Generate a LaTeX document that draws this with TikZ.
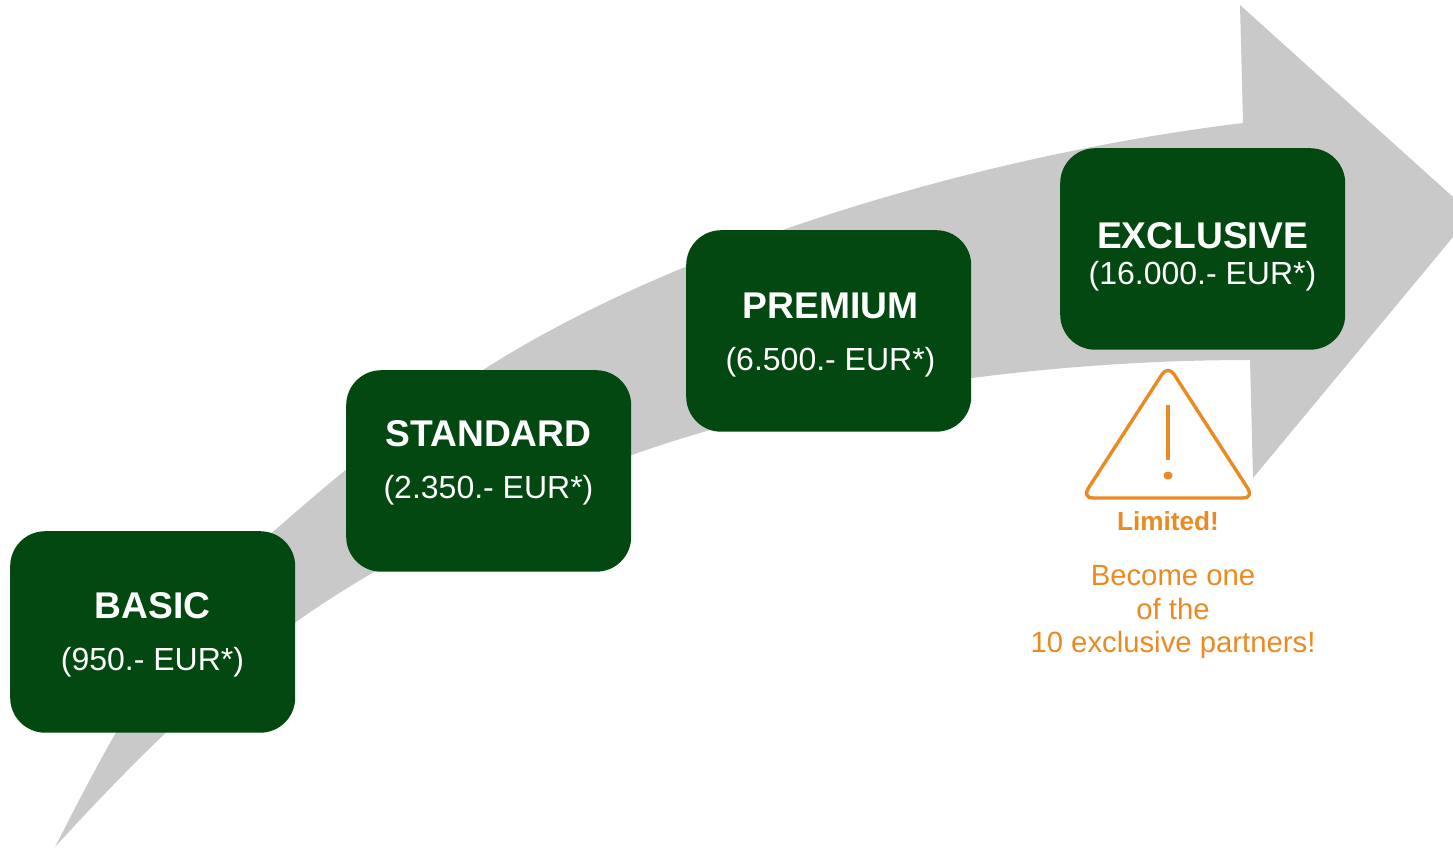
\documentclass[tikz,border=0pt]{standalone}
\usepackage{fontspec}
\setmainfont{Liberation Sans}
\definecolor{boxgreen}{HTML}{034711}
\definecolor{arrowgrey}{HTML}{C9C9C9}
\definecolor{warnorange}{HTML}{EA8A22}
\tikzset{
  tierbox/.style={fill=boxgreen,rounded corners=35pt,minimum width=285pt,minimum height=201.5pt,inner sep=0pt,anchor=north west},
  tiertitle/.style={text=white,font=\fontsize{37.2}{37}\selectfont\bfseries,anchor=base,inner sep=0pt},
  tierprice/.style={text=white,font=\fontsize{32}{32}\selectfont,anchor=base,inner sep=0pt},
  warnbold/.style={text=warnorange,font=\fontsize{26.2}{26}\selectfont\bfseries,anchor=base,inner sep=0pt},
  warntext/.style={text=warnorange,font=\fontsize{29.3}{29.3}\selectfont,anchor=base,inner sep=0pt}
}
\begin{document}
\begin{tikzpicture}[x=1pt,y=-1pt]
\useasboundingbox (0,0) rectangle (1453,847);
\fill[arrowgrey] (55,847) .. controls (100,760) and (165,625) .. (275,530)
  .. controls (335,478) and (396,425) .. (486,368)
  .. controls (680,245) and (980,155) .. (1243,123)
  -- (1240,5) -- (1453,197) -- (1453,237) -- (1253,478) -- (1250,360)
  .. controls (1000,360) and (770,405) .. (632,455)
  .. controls (510,495) and (380,562) .. (296,622)
  .. controls (215,680) and (125,770) .. (55,847) -- cycle;
\node[tierbox] (basic) at (10,531) {};
\node[tierbox] (standard) at (346,370) {};
\node[tierbox] (premium) at (686,230) {};
\node[tierbox] (exclusive) at (1060,148) {};
\node[tiertitle] (t1) at (152.5,618) {BASIC};
\node[tierprice] (p1) at (152.5,670) {(950.- EUR*)};
\node[tiertitle] (t2) at (488.5,446) {STANDARD};
\node[tierprice] (p2) at (488.5,498) {(2.350.- EUR*)};
\node[tiertitle] (t3) at (830.5,318) {PREMIUM};
\node[tierprice] (p3) at (830.5,370) {(6.500.- EUR*)};
\node[tiertitle] (t4) at (1202.5,248) {EXCLUSIVE};
\node[tierprice] (p4) at (1202.5,284) {(16.000.- EUR*)};
\draw[warnorange,line width=3.4pt,rounded corners=11pt,line join=round] (1168,365) -- (1254,498) -- (1082,498) -- cycle;
\draw[warnorange,line width=3.8pt] (1168,405) -- (1168,460);
\fill[warnorange] (1168,475.5) ellipse (4.6pt and 4pt);
\node[warnbold] (lim) at (1168,530) {Limited!};
\node[warntext] (b1) at (1173,585) {Become one};
\node[warntext] (b2) at (1173,619) {of the};
\node[warntext] (b3) at (1173,652) {10 exclusive partners!};
\end{tikzpicture}
\end{document}
